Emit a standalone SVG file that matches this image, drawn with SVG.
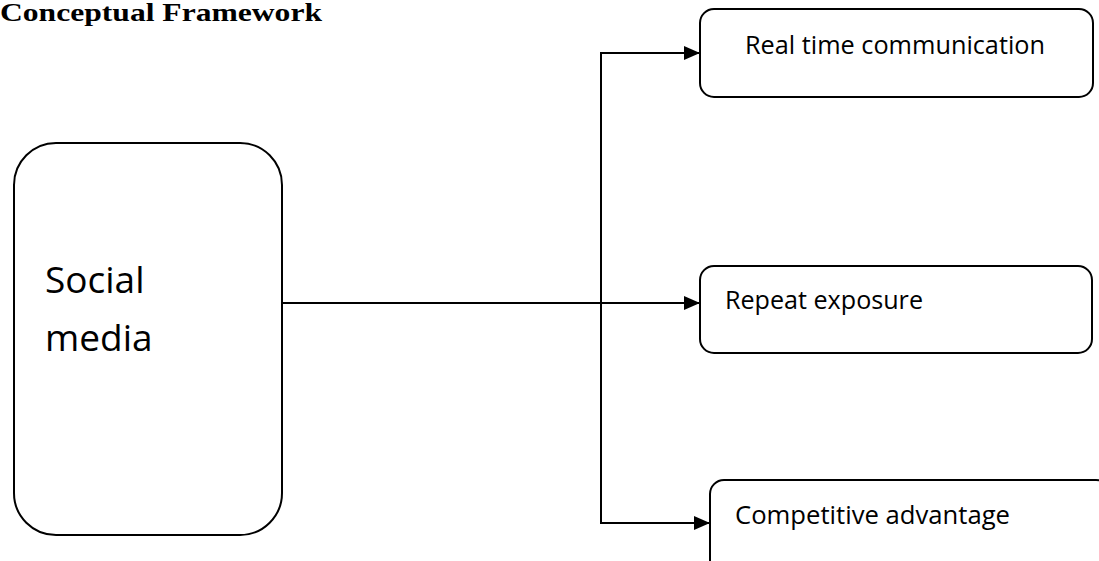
<svg xmlns="http://www.w3.org/2000/svg" width="1099" height="561" viewBox="0 0 1099 561">
<style>
.box{fill:#fff;stroke:#000;stroke-width:2}
.lbl{font-family:"Open Sans","Liberation Sans",sans-serif;fill:#000}
.conn{fill:none;stroke:#000;stroke-width:2}
</style>
<defs>
<marker id="ah" markerWidth="16" markerHeight="14" refX="16" refY="7" orient="auto" markerUnits="userSpaceOnUse" viewBox="0 0 16 14">
<path d="M0,0 L16,7 L0,14 z" fill="#000"/>
</marker>
</defs>
<rect width="1099" height="561" fill="#fff"/>
<text x="0" y="21" font-family="Liberation Serif,serif" font-weight="bold" font-size="25" textLength="322" lengthAdjust="spacingAndGlyphs">Conceptual Framework</text>
<g id="connectors">
<path class="conn" d="M282,303 H700" marker-end="url(#ah)"/>
<path class="conn" d="M601,303 V53 H700" marker-end="url(#ah)"/>
<path class="conn" d="M601,303 V523 H710" marker-end="url(#ah)"/>
</g>
<g id="social-media">
<rect class="box" x="14" y="143" width="268" height="392" rx="42" ry="42"/>
<text class="lbl" x="45" y="293" font-size="37">Social</text>
<text class="lbl" x="45" y="351" font-size="37">media</text>
</g>
<g id="real-time">
<rect class="box" x="700" y="9" width="393" height="88" rx="14" ry="14"/>
<text class="lbl" x="745" y="54" font-size="25" textLength="300" lengthAdjust="spacingAndGlyphs">Real time communication</text>
</g>
<g id="repeat">
<rect class="box" x="700" y="266" width="392" height="87" rx="14" ry="14"/>
<text class="lbl" x="725" y="309" font-size="25" textLength="198" lengthAdjust="spacingAndGlyphs">Repeat exposure</text>
</g>
<g id="competitive">
<rect class="box" x="710" y="480" width="400" height="100" rx="14" ry="14"/>
<text class="lbl" x="735" y="524" font-size="25" textLength="275" lengthAdjust="spacingAndGlyphs">Competitive advantage</text>
</g>
</svg>
